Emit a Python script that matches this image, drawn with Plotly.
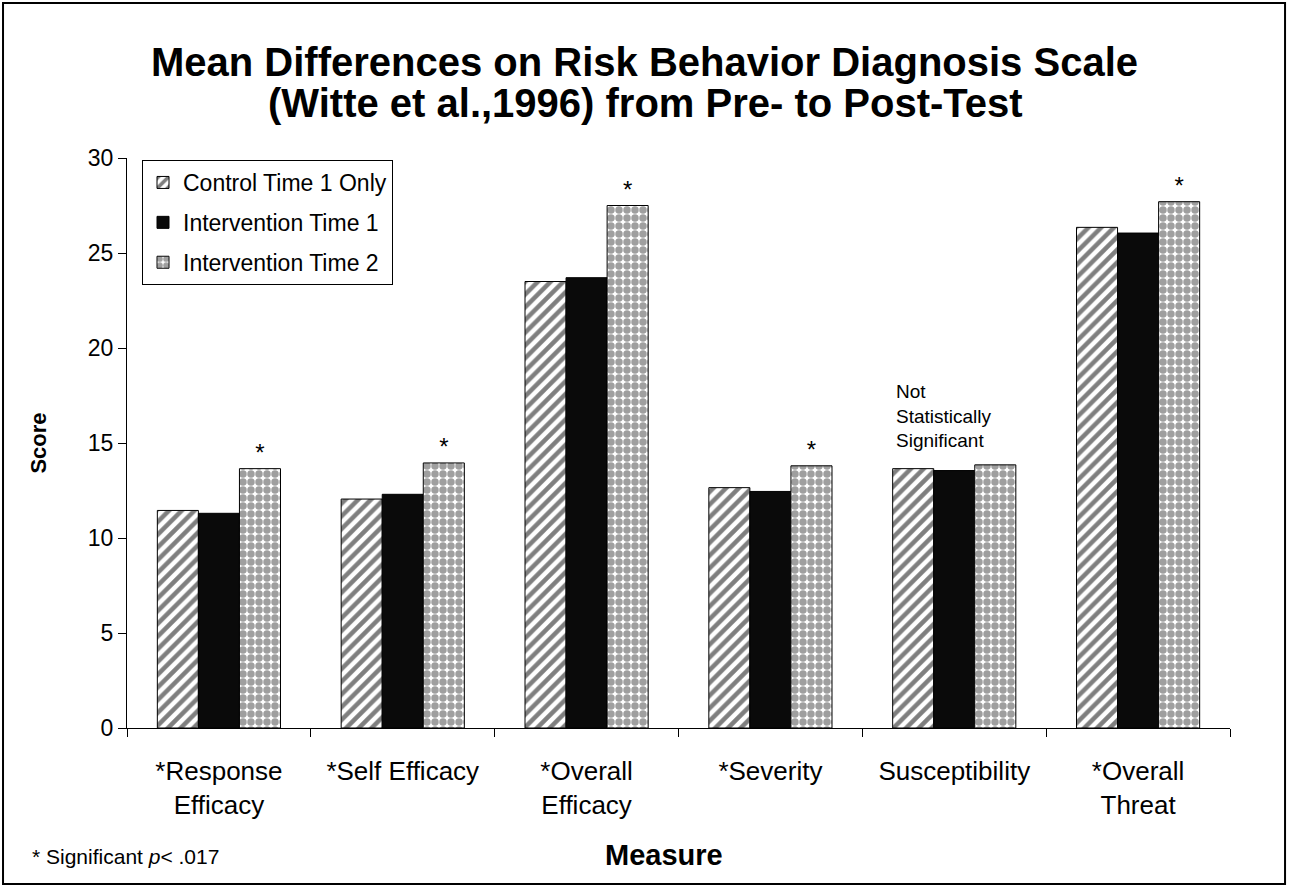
import plotly.graph_objects as go

categories = ["*Response<br>Efficacy", "*Self Efficacy", "*Overall<br>Efficacy",
              "*Severity", "Susceptibility", "*Overall<br>Threat"]
control_t1 = [11.45, 12.05, 23.5, 12.65, 13.65, 26.35]
interv_t1 = [11.3, 12.3, 23.7, 12.45, 13.55, 26.05]
interv_t2 = [13.65, 13.95, 27.5, 13.8, 13.85, 27.7]
sig_marks = ["*", "*", "*", "*", "", "*"]
series_names = ["Control Time 1 Only", "Intervention Time 1", "Intervention Time 2"]
title_lines = ["Mean Differences on Risk Behavior Diagnosis Scale",
               "(Witte et al.,1996) from Pre- to Post-Test"]

FONT = "Liberation Sans, Arial, sans-serif"

fig = go.Figure()
fig.add_trace(go.Bar(
    x=categories, y=control_t1, name=series_names[0], legendgroup="a",
    marker=dict(color="white", line=dict(color="black", width=1),
                pattern=dict(shape="/", fgcolor="black", bgcolor="white", size=9, solidity=0.5)),
))
fig.add_trace(go.Bar(
    x=categories, y=interv_t1, name=series_names[1], legendgroup="b",
    marker=dict(color="#0a0a0a", line=dict(color="black", width=1)),
))
fig.add_trace(go.Bar(
    x=categories, y=interv_t2, name=series_names[2], legendgroup="c",
    text=sig_marks, textposition="outside", cliponaxis=False,
    textfont=dict(size=24, color="black", family=FONT),
    marker=dict(color="white", line=dict(color="black", width=1),
                pattern=dict(shape=".", fgcolor="#404040", bgcolor="white", size=8, solidity=0.68)),
))

fig.add_annotation(x=(645 - 127) / 1103, y=1.0965, xref="paper", yref="paper",
                   text="<b>" + title_lines[1] + "</b>", showarrow=False,
                   xanchor="center", yanchor="middle",
                   font=dict(size=40, color="black", family=FONT))
fig.add_annotation(x="Susceptibility", y=14.5, xref="x", yref="y",
                   text="Not<br>Statistically<br>Significant", showarrow=False,
                   xanchor="left", yanchor="bottom", xshift=-60, align="left",
                   font=dict(size=19, color="black", family=FONT))
fig.add_annotation(x=-0.088, y=-0.225, xref="paper", yref="paper",
                   text="* Significant <i>p</i>< .017", showarrow=False,
                   xanchor="left", yanchor="middle", align="left",
                   font=dict(size=21, color="black", family=FONT))
fig.add_annotation(x=(664 - 127) / 1103, y=-0.223, xref="paper", yref="paper",
                   text="<b>Measure</b>", showarrow=False,
                   xanchor="center", yanchor="middle",
                   font=dict(size=29, color="black", family=FONT))

# outer frame
fig.add_shape(type="rect", xref="paper", yref="paper",
              x0=-0.1124, x1=1.0499, y0=-0.2737, y1=1.2719,
              line=dict(color="black", width=2), fillcolor="rgba(0,0,0,0)", layer="above")

fig.update_layout(
    width=1289, height=888,
    margin=dict(l=127, r=59, t=158, b=160),
    paper_bgcolor="white", plot_bgcolor="white",
    font=dict(family=FONT, color="black", size=20),
    title=dict(text="<b>" + title_lines[0] + "</b>",
               x=0.5, xanchor="center", y=1 - 62 / 888, yanchor="middle",
               font=dict(size=40, family=FONT, color="black")),
    barmode="group", bargap=0.33, bargroupgap=0,
    showlegend=True,
    legend=dict(x=0.0136, y=0.9965, xanchor="left", yanchor="top",
                bordercolor="black", borderwidth=1, bgcolor="white",
                font=dict(size=23, family=FONT, color="black"),
                tracegroupgap=7, traceorder="grouped", itemwidth=30),
    xaxis=dict(showline=True, linecolor="black", linewidth=1, ticks="outside",
               tickson="boundaries", ticklen=8, tickcolor="black",
               tickfont=dict(size=26, family=FONT), showgrid=False,
               ticklabelstandoff=20),
    yaxis=dict(range=[0, 30], dtick=5, showline=True, linecolor="black", linewidth=1,
               ticks="outside", ticklen=8, tickcolor="black", showgrid=False, zeroline=False,
               tickfont=dict(size=23, family=FONT),
               title=dict(text="<b>Score</b>", font=dict(size=22, family=FONT), standoff=35)),
)

fig.write_html("out.html", config={"displayModeBar": False},
               post_script="document.body.style.margin='0';document.body.style.overflow='hidden';")
